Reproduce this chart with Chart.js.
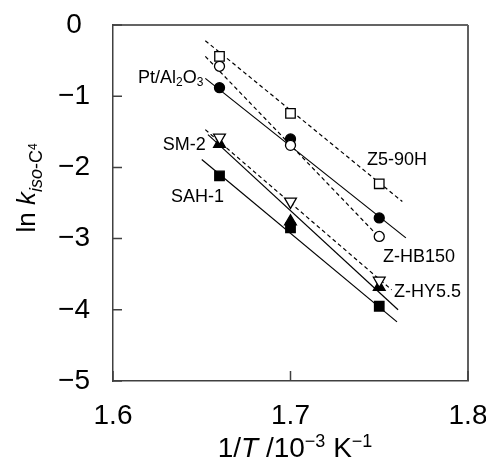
<!DOCTYPE html>
<html>
<head>
<meta charset="utf-8">
<script src="https://cdn.jsdelivr.net/npm/chart.js@4.4.0/dist/chart.umd.min.js"></script>
<style>
  html, body { margin: 0; padding: 0; background: #fff; }
  #wrap { width: 486px; height: 459px; }
</style>
</head>
<body>
<div id="wrap"><canvas id="c"></canvas></div>
<script>
const FONT = '"Liberation Sans", Arial, sans-serif';

// 1/T (10^-3 K^-1) of the three measurements
const invT = [1.66, 1.70, 1.75];

// ln k values
const z590h  = [-0.44, -1.24, -2.23];
const ptAl   = [-0.88, -1.60, -2.71];
const zhb150 = [-0.58, -1.69, -2.97];
const sm2    = [-1.58, -2.48, -3.59];
const zhy55  = [-1.67, -2.76, -3.68];
const sah1   = [-2.12, -2.85, -3.95];

// fitted lines: end points [x0, x1] / [y0, y1]
const fitZ590hX  = [1.652, 1.763], fitZ590hY  = [-0.22, -2.48];
const fitPtAlX   = [1.652, 1.765], fitPtAlY   = [-0.75, -2.99];
const fitZhb150X = [1.652, 1.753], fitZhb150Y = [-0.44, -3.06];
const fitSm2X    = [1.652, 1.757], fitSm2Y    = [-1.47, -3.72];
const fitZhy55X  = [1.6535, 1.7606], fitZhy55Y = [-1.54, -4.00];
const fitSah1X   = [1.650, 1.760], fitSah1Y   = [-1.89, -4.17];

const xTicks = [1.6, 1.7, 1.8];
const yTicks = [0, -1, -2, -3, -4, -5];

// series names, anchored (left edge, middle) in data units
const tags = [
    { x: 1.6141, y: -0.74, runs: [['Pt/Al', 0], ['2', 1], ['O', 0], ['3', 1]] },
    { x: 1.628,  y: -1.69, runs: [['SM-2', 0]] },
    { x: 1.6327, y: -2.41, runs: [['SAH-1', 0]] },
    { x: 1.7431, y: -1.89, runs: [['Z5-90H', 0]] },
    { x: 1.7521, y: -3.26, runs: [['Z-HB150', 0]] },
    { x: 1.7583, y: -3.75, runs: [['Z-HY5.5', 0]] },
];

const pts = ys => ys.map((y, i) => ({ x: invT[i], y }));
const seg = (xs, ys) => xs.map((x, i) => ({ x, y: ys[i] }));

function marker(data, style, filled, radius, rotation) {
    return {
        data, showLine: false, order: 0,
        pointStyle: style, pointRadius: radius, pointRotation: rotation || 0,
        pointBackgroundColor: filled ? '#000' : '#fff',
        pointBorderColor: '#000', pointBorderWidth: 1.3,
    };
}
function fitLine(data, dashed) {
    return {
        data, showLine: true, order: 2, pointRadius: 0,
        borderColor: '#000', borderWidth: 1.2,
        borderDash: dashed ? [4, 3] : [],
    };
}

function drawRuns(ctx, x, y, runs) {
    for (const r of runs) {
        ctx.font = r.font;
        ctx.fillText(r.t, x, y + (r.dy || 0));
        x += ctx.measureText(r.t).width;
    }
}
function runsWidth(ctx, runs) {
    let w = 0;
    for (const r of runs) { ctx.font = r.font; w += ctx.measureText(r.t).width; }
    return w;
}

const decor = {
    id: 'decor',
    afterDatasetsDraw(chart) {
        const { ctx, chartArea: a, scales: { x, y } } = chart;
        ctx.save();
        // top and right frame
        ctx.strokeStyle = '#303030';
        ctx.lineWidth = 1.5;
        ctx.beginPath();
        ctx.moveTo(a.left, a.top); ctx.lineTo(a.right, a.top);
        ctx.stroke();
        ctx.strokeStyle = '#606060';
        ctx.lineWidth = 2;
        ctx.beginPath();
        ctx.moveTo(a.right, a.top); ctx.lineTo(a.right, a.bottom);
        ctx.stroke();
        // inward tick marks
        ctx.strokeStyle = '#404040';
        ctx.lineWidth = 1.5;
        ctx.beginPath();
        for (const v of yTicks) {
            const py = y.getPixelForValue(v);
            ctx.moveTo(a.left, py); ctx.lineTo(a.left + 9, py);
        }
        for (const v of xTicks) {
            const px = x.getPixelForValue(v);
            ctx.moveTo(px, a.bottom); ctx.lineTo(px, a.bottom - 10);
        }
        ctx.stroke();

        // series names
        ctx.fillStyle = '#000';
        ctx.textBaseline = 'middle';
        ctx.textAlign = 'left';
        for (const t of tags) {
            const runs = t.runs.map(([s, sub]) => sub
                ? { t: s, font: `12px ${FONT}`, dy: 5 }
                : { t: s, font: `18px ${FONT}` });
            drawRuns(ctx, x.getPixelForValue(t.x), y.getPixelForValue(t.y), runs);
        }

        // x title
        ctx.textBaseline = 'alphabetic';
        const xr = [
            { t: '1/', font: `28px ${FONT}` },
            { t: 'T', font: `italic 28px ${FONT}` },
            { t: ' /10', font: `28px ${FONT}` },
            { t: '\u22123', font: `18px ${FONT}`, dy: -10 },
            { t: ' K', font: `28px ${FONT}` },
            { t: '\u22121', font: `18px ${FONT}`, dy: -10 },
        ];
        drawRuns(ctx, 295 - runsWidth(ctx, xr) / 2, 457, xr);

        // y title
        const yr = [
            { t: 'ln ', font: `26px ${FONT}` },
            { t: 'k', font: `italic 26px ${FONT}` },
            { t: 'iso', font: `italic 18px ${FONT}`, dy: 7 },
            { t: '-C', font: `18px ${FONT}`, dy: 7 },
            { t: '4', font: `12px ${FONT}`, dy: 2 },
        ];
        ctx.translate(35, 188);
        ctx.rotate(-Math.PI / 2);
        drawRuns(ctx, -runsWidth(ctx, yr) / 2, 0, yr);
        ctx.restore();
    }
};

new Chart(document.getElementById('c'), {
    type: 'scatter',
    data: {
        datasets: [
            marker(pts(z590h), 'rect', false, 6.7),
            marker(pts(zhb150), 'circle', false, 5),
            marker(pts(ptAl), 'circle', true, 5),
            marker(pts(sm2), 'triangle', false, 6.8, 180),
            marker(pts(zhy55), 'triangle', true, 6.8),
            marker(pts(sah1), 'rect', true, 6.7),
            fitLine(seg(fitZ590hX, fitZ590hY), true),
            fitLine(seg(fitZhb150X, fitZhb150Y), true),
            fitLine(seg(fitSm2X, fitSm2Y), true),
            fitLine(seg(fitPtAlX, fitPtAlY), false),
            fitLine(seg(fitZhy55X, fitZhy55Y), false),
            fitLine(seg(fitSah1X, fitSah1Y), false),
        ],
    },
    options: {
        responsive: true,
        maintainAspectRatio: false,
        animation: false,
        layout: { padding: { top: 25, right: 18, left: 0, bottom: 0 } },
        plugins: { legend: { display: false }, tooltip: { enabled: false } },
        scales: {
            x: {
                type: 'linear', min: 1.6, max: 1.8,
                afterFit: s => { s.height = 78; s.paddingLeft = 0; s.paddingRight = 0; },
                afterBuildTicks: s => { s.ticks = xTicks.map(v => ({ value: v })); },
                grid: { display: false },
                border: { color: '#404040', width: 1.5 },
                ticks: { padding: 10, color: '#000', font: { family: FONT, size: 28 }, callback: v => v.toFixed(1) },
            },
            y: {
                type: 'linear', min: -5, max: 0,
                afterFit: s => { s.width = 113; s.paddingTop = 0; s.paddingBottom = 0; },
                afterBuildTicks: s => { s.ticks = yTicks.map(v => ({ value: v })); },
                grid: { display: false },
                border: { color: '#404040', width: 1.5 },
                ticks: {
                    padding: 15, crossAlign: 'center', color: '#000',
                    font: { family: FONT, size: 28 },
                    callback: v => v < 0 ? '\u2212' + Math.abs(v) : String(v),
                },
            },
        },
    },
    plugins: [decor],
});
</script>
</body>
</html>
